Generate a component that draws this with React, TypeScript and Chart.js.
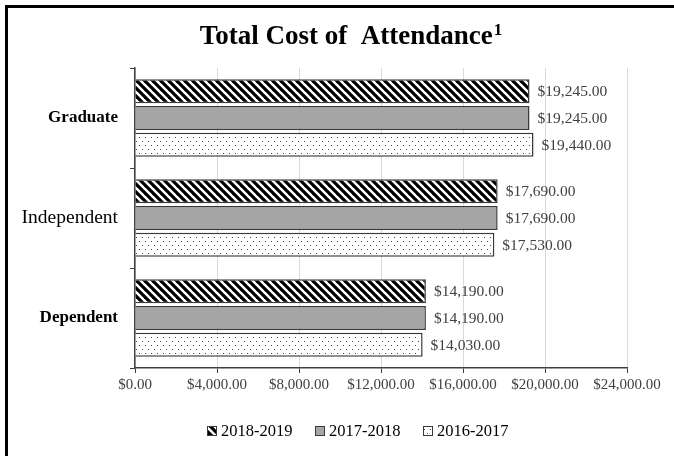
import React, { useEffect, useRef } from "react";
import { Chart, registerables } from "chart.js";

Chart.register(...registerables);

const titleText = "Total Cost of  Attendance";
const titleNote = "1";
const categories = ["Graduate", "Independent", "Dependent"];
const seriesNames = ["2018-2019", "2017-2018", "2016-2017"];
const values2018_2019 = [19245, 17690, 14190];
const values2017_2018 = [19245, 17690, 14190];
const values2016_2017 = [19440, 17530, 14030];
const xTickMin = 0;
const xTickMax = 24000;
const xTickStep = 4000;

const SERIF = "'Liberation Serif', 'DejaVu Serif', serif";
const BORDER = "#3a3a3a";

function money(n: number): string {
  const s = n.toFixed(2);
  const [i, d] = s.split(".");
  return "$" + i.replace(/\B(?=(\d{3})+(?!\d))/g, ",") + "." + d;
}

function stripePattern(): CanvasPattern | string {
  const c = document.createElement("canvas");
  c.width = 8;
  c.height = 8;
  const g = c.getContext("2d");
  if (!g) return "#000";
  g.fillStyle = "#fff";
  g.fillRect(0, 0, 8, 8);
  g.strokeStyle = "#000";
  g.lineWidth = 3.2;
  for (const k of [-1, 0, 1]) {
    g.beginPath();
    g.moveTo(-2, k * 8 - 2);
    g.lineTo(10, 10 + k * 8);
    g.stroke();
  }
  return g.createPattern(c, "repeat") as CanvasPattern;
}

function dotPattern(): CanvasPattern | string {
  const c = document.createElement("canvas");
  c.width = 6;
  c.height = 8;
  const g = c.getContext("2d");
  if (!g) return "#fff";
  g.fillStyle = "#fff";
  g.fillRect(0, 0, 6, 8);
  g.fillStyle = "#444";
  g.fillRect(1, 1, 1, 1);
  g.fillRect(4, 5, 1, 1);
  return g.createPattern(c, "repeat") as CanvasPattern;
}

const valueLabels = {
  id: "valueLabels",
  afterDatasetsDraw(chart: any) {
    const ctx = chart.ctx;
    ctx.save();
    ctx.font = "15.5px " + SERIF;
    ctx.fillStyle = "#404040";
    ctx.textAlign = "left";
    ctx.textBaseline = "middle";
    chart.data.datasets.forEach((ds: any, di: number) => {
      const meta = chart.getDatasetMeta(di);
      meta.data.forEach((bar: any, i: number) => {
        ctx.fillText(money(ds.data[i]), bar.x + 8, bar.y + 1);
      });
    });
    ctx.restore();
  },
};

const titleAndLegend = {
  id: "titleAndLegend",
  afterDraw(chart: any) {
    const ctx = chart.ctx;
    ctx.save();
    // title
    ctx.fillStyle = "#000";
    ctx.textBaseline = "alphabetic";
    ctx.font = "bold 27px " + SERIF;
    const mainW = ctx.measureText(titleText).width;
    ctx.font = "bold 17px " + SERIF;
    const noteW = ctx.measureText(titleNote).width;
    const startX = 351 - (mainW + noteW + 1) / 2;
    ctx.font = "bold 27px " + SERIF;
    ctx.textAlign = "left";
    ctx.fillText(titleText, startX, 44);
    ctx.font = "bold 17px " + SERIF;
    ctx.fillText(titleNote, startX + mainW + 1, 35);
    // legend
    const boxXs = [207, 315, 423];
    const legendY = 431;
    ctx.font = "16.5px " + SERIF;
    ctx.textBaseline = "middle";
    chart.data.datasets.forEach((ds: any, i: number) => {
      const bx = boxXs[i];
      ctx.fillStyle = ds.backgroundColor;
      ctx.fillRect(bx, legendY - 5, 10, 10);
      ctx.strokeStyle = BORDER;
      ctx.lineWidth = 1;
      ctx.strokeRect(bx + 0.5, legendY - 4.5, 9, 9);
      ctx.fillStyle = "#000";
      ctx.fillText(ds.label, bx + 14, legendY + 1);
    });
    ctx.restore();
  },
};

export default function App() {
  const ref = useRef<HTMLCanvasElement | null>(null);

  useEffect(() => {
    if (!ref.current) return;
    const fills = [stripePattern(), "#a6a6a6", dotPattern()];
    const seriesData = [values2018_2019, values2017_2018, values2016_2017];
    const chart = new Chart(ref.current, {
      type: "bar",
      data: {
        labels: categories,
        datasets: seriesNames.map((name, i) => ({
          label: name,
          data: seriesData[i],
          backgroundColor: fills[i] as any,
          borderColor: BORDER,
          borderWidth: 1.5,
          categoryPercentage: 0.8,
          barPercentage: 0.9,
        })),
      },
      options: {
        indexAxis: "y",
        responsive: false,
        animation: false,
        layout: { padding: { left: 0, right: 47, top: 68, bottom: 48 } },
        plugins: {
          title: { display: false },
          legend: { display: false },
          tooltip: { enabled: false },
        },
        scales: {
          x: {
            min: xTickMin,
            max: xTickMax,
            ticks: {
              stepSize: xTickStep,
              color: "#404040",
              font: { family: SERIF, size: 15 },
              padding: 3,
              maxRotation: 0,
              callback: (v: any) => money(Number(v)),
            },
            grid: {
              color: "#d9d9d9",
              lineWidth: 1,
              tickLength: 5,
              tickColor: "#404040",
            },
            border: { color: "#404040", width: 1.5 },
            afterFit: (s: any) => {
              s.height = 40;
            },
          },
          y: {
            ticks: {
              color: "#000",
              font: (ctx: any) =>
                ctx.index === 1
                  ? { family: SERIF, size: 19.5, weight: "normal" }
                  : { family: SERIF, size: 17, weight: "bold" },
              padding: 12,
            },
            grid: {
              drawOnChartArea: false,
              tickLength: 5,
              tickColor: "#404040",
              offset: true,
            },
            border: { color: "#404040", width: 1.5 },
            afterFit: (s: any) => {
              s.width = 135;
            },
          },
        },
      },
      plugins: [valueLabels, titleAndLegend],
    });
    return () => chart.destroy();
  }, []);

  return (
    <div
      style={{
        position: "fixed",
        left: 0,
        top: 0,
        width: 674,
        height: 456,
        overflow: "hidden",
        background: "#fff",
      }}
    >
      <canvas ref={ref} width={674} height={456} style={{ position: "absolute", left: 0, top: 0 }} />
      <div
        style={{
          position: "absolute",
          left: 5,
          top: 5,
          width: 720,
          height: 520,
          border: "3px solid #000",
          boxSizing: "border-box",
          pointerEvents: "none",
        }}
      />
    </div>
  );
}
